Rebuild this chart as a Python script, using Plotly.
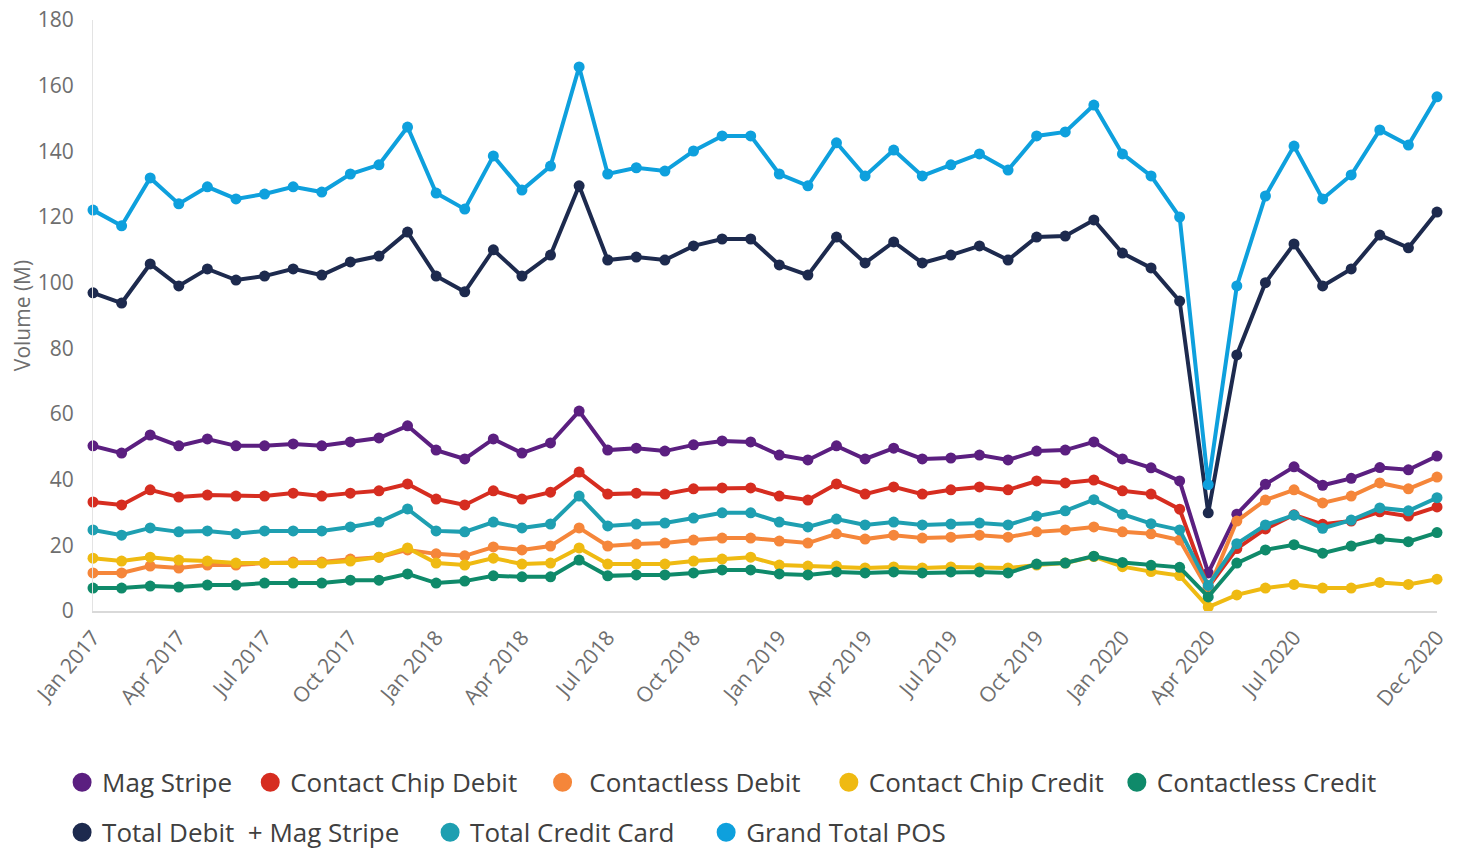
import plotly.graph_objects as go

months = [f"{m} {y}" for y in (2017, 2018, 2019, 2020)
          for m in ["Jan", "Feb", "Mar", "Apr", "May", "Jun", "Jul", "Aug", "Sep", "Oct", "Nov", "Dec"]]

tick_labels = ["Jan 2017", "Apr 2017", "Jul 2017", "Oct 2017", "Jan 2018", "Apr 2018", "Jul 2018",
               "Oct 2018", "Jan 2019", "Apr 2019", "Jul 2019", "Oct 2019", "Jan 2020", "Apr 2020",
               "Jul 2020", "Dec 2020"]

mag_stripe = [50.3, 48.1, 53.6, 50.3, 52.4, 50.3, 50.3, 50.9, 50.3, 51.5, 52.7, 56.4,
              49.0, 46.3, 52.4, 48.1, 51.2, 60.9, 49.0, 49.6, 48.7, 50.6, 51.8, 51.5,
              47.5, 46.0, 50.3, 46.3, 49.6, 46.3, 46.6, 47.5, 46.0, 48.7, 49.0, 51.5,
              46.3, 43.6, 39.6, 11.6, 29.5, 38.6, 43.9, 38.3, 40.4, 43.7, 43.0, 47.2]

contact_chip_debit = [33.2, 32.3, 36.9, 34.7, 35.3, 35.0, 35.0, 35.9, 35.0, 35.9, 36.6, 38.7,
                      34.1, 32.3, 36.6, 34.1, 36.2, 42.3, 35.6, 35.9, 35.6, 37.2, 37.5, 37.5,
                      35.0, 33.8, 38.7, 35.6, 37.8, 35.6, 36.9, 37.8, 36.9, 39.6, 39.0, 39.9,
                      36.6, 35.6, 31.0, 7.2, 19.0, 25.0, 29.3, 26.4, 27.4, 30.2, 28.9, 31.7]

contactless_debit = [11.6, 11.6, 13.7, 13.1, 14.0, 14.0, 14.6, 14.9, 14.9, 15.8, 16.4, 18.6,
                     17.4, 16.8, 19.5, 18.6, 19.8, 25.3, 19.8, 20.4, 20.7, 21.6, 22.2, 22.2,
                     21.3, 20.7, 23.5, 21.9, 23.1, 22.2, 22.5, 23.1, 22.5, 24.1, 24.7, 25.6,
                     24.1, 23.5, 21.6, 6.4, 27.4, 33.8, 36.9, 32.9, 35.0, 39.0, 37.2, 40.8]

contact_chip_credit = [16.1, 15.2, 16.4, 15.5, 15.2, 14.6, 14.6, 14.6, 14.6, 15.2, 16.4, 19.2,
                       14.6, 14.0, 16.1, 14.3, 14.6, 19.2, 14.3, 14.3, 14.3, 15.2, 15.8, 16.4,
                       14.0, 13.7, 13.7, 13.1, 13.4, 13.1, 13.4, 13.1, 13.1, 14.0, 14.6, 16.6,
                       13.5, 12.0, 10.8, 1.2, 4.9, 7.0, 8.1, 7.0, 7.0, 8.7, 8.1, 9.7]

contactless_credit = [7.0, 7.0, 7.6, 7.3, 7.9, 7.9, 8.5, 8.5, 8.5, 9.4, 9.4, 11.3,
                      8.5, 9.1, 10.7, 10.4, 10.4, 15.5, 10.7, 11.0, 11.0, 11.6, 12.5, 12.5,
                      11.3, 11.0, 11.9, 11.6, 11.9, 11.6, 11.9, 11.9, 11.6, 14.3, 14.6, 16.7,
                      14.8, 13.9, 13.3, 4.3, 14.6, 18.6, 20.2, 17.6, 19.8, 21.9, 21.1, 23.9]

total_debit = [96.9, 93.8, 105.7, 99.0, 104.2, 100.8, 102.0, 104.2, 102.3, 106.3, 108.1, 115.4,
               102.0, 97.2, 110.0, 102.0, 108.4, 129.5, 106.9, 107.8, 106.9, 111.2, 113.3, 113.3,
               105.4, 102.3, 113.9, 106.0, 112.4, 106.0, 108.4, 111.2, 106.9, 113.9, 114.2, 119.1,
               109.0, 104.5, 94.4, 29.9, 78.0, 100.0, 111.8, 99.0, 104.2, 114.5, 110.6, 121.5]

total_credit = [24.7, 23.1, 25.3, 24.1, 24.4, 23.5, 24.4, 24.4, 24.4, 25.6, 27.1, 31.1,
                24.4, 24.1, 27.1, 25.3, 26.5, 35.0, 25.9, 26.5, 26.8, 28.3, 29.9, 29.9,
                27.1, 25.6, 28.0, 26.2, 27.1, 26.2, 26.5, 26.8, 26.2, 28.9, 30.5, 33.9,
                29.5, 26.6, 24.7, 7.8, 20.5, 26.2, 29.2, 25.2, 27.7, 31.4, 30.5, 34.5]

grand_total = [122.1, 117.3, 131.9, 124.0, 129.2, 125.5, 127.0, 129.2, 127.6, 133.1, 135.9, 147.4,
               127.3, 122.4, 138.6, 128.2, 135.5, 165.7, 133.1, 135.0, 134.0, 140.1, 144.7, 144.7,
               133.1, 129.5, 142.6, 132.5, 140.4, 132.5, 135.9, 139.2, 134.3, 144.7, 145.9, 154.1,
               139.2, 132.5, 120.0, 38.5, 99.0, 126.4, 141.6, 125.5, 132.8, 146.5, 141.9, 156.6]

series_names = ["Mag Stripe", "Contact Chip Debit", "\u00a0Contactless Debit", "Contact Chip Credit",
                "Contactless Credit", "Total Debit \u00a0+ Mag Stripe", "Total Credit Card", "Grand Total POS"]
series_values = [mag_stripe, contact_chip_debit, contactless_debit, contact_chip_credit,
                 contactless_credit, total_debit, total_credit, grand_total]
series_colors = ["#5B1F80", "#D62D20", "#F5863A", "#EFBA12", "#0F8A6A", "#1D2A4E", "#1E9FB1", "#0EA0DD"]

# legend placement (paper coords): one legend box per entry to mimic the two-row layout
legend_x = [-0.0230, 0.1170, 0.3345, 0.5475, 0.7618, -0.0230, 0.2508, 0.4562]
legend_y = [-0.290, -0.290, -0.290, -0.290, -0.290, -0.3745, -0.3745, -0.3745]

fig = go.Figure()
for name, vals, color in zip(series_names, series_values, series_colors):
    fig.add_trace(go.Scatter(
        x=months, y=vals, mode="lines+markers", name=name.strip(),
        line=dict(color=color, width=4),
        marker=dict(color=color, size=11),
        showlegend=False, legendgroup=name, cliponaxis=False,
    ))

leg_font = dict(family="Open Sans, sans-serif", size=26, color="#404040")
legends = {}
for i, (name, color) in enumerate(zip(series_names, series_colors)):
    key = "legend" if i == 0 else f"legend{i + 1}"
    fig.add_trace(go.Scatter(
        x=[None], y=[None], mode="markers", name=name,
        marker=dict(color=color, size=16, line=dict(color=color, width=3)),
        showlegend=True, legendgroup=name, legend=key,
    ))
    legends[key] = dict(orientation="h", x=legend_x[i], y=legend_y[i], xanchor="left",
                        yanchor="middle", font=leg_font, itemclick=False,
                        bgcolor="rgba(0,0,0,0)", borderwidth=0)

tick_font = dict(family="Open Sans, sans-serif", size=21, color="#6E6E6E")

# the page adds an 8px body margin, so the margins below are shifted by 8px to compensate
fig.update_layout(
    width=1458, height=850,
    margin=dict(l=85, r=29, t=12, b=247, autoexpand=False),
    paper_bgcolor="white", plot_bgcolor="white",
    xaxis=dict(
        type="category", range=[0, 47],
        tickmode="array", tickvals=tick_labels, ticktext=tick_labels,
        tickangle=-50, tickfont=tick_font, ticklabeloverflow="allow",
        showgrid=False, zeroline=False,
        showline=True, linecolor="#D9D9D9", linewidth=1.5,
        ticks="outside", ticklen=4, tickcolor="rgba(0,0,0,0)",
    ),
    yaxis=dict(
        range=[0, 180], tickmode="array", tickvals=list(range(0, 181, 20)),
        tickfont=tick_font, ticklabeloverflow="allow", showgrid=False, zeroline=False,
        showline=True, linecolor="#E3E3E3", linewidth=1,
        ticks="outside", ticklen=14, tickcolor="rgba(0,0,0,0)",
        title=dict(text="Volume (M)", font=dict(family="Open Sans, sans-serif", size=21, color="#6E6E6E"),
                   standoff=15),
    ),
    **legends,
)

fig.write_html("out.html")
